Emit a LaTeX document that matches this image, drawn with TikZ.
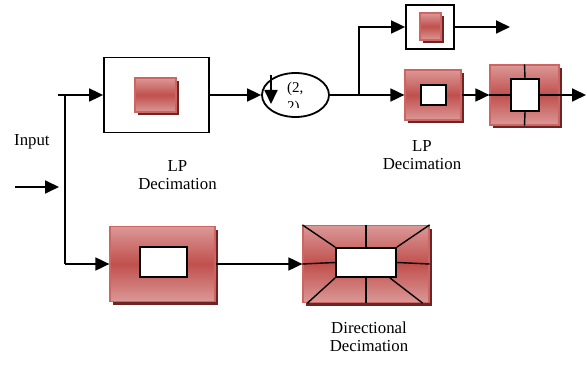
\documentclass[tikz,border=0pt]{standalone}
\usepackage{fontspec}
\setmainfont{Liberation Serif}
\usetikzlibrary{arrows.meta,shapes.geometric,shadows}

\definecolor{brickhi}{HTML}{DB9897}
\definecolor{brickmid}{HTML}{C0504D}
\definecolor{brickedge}{HTML}{CD6563}
\definecolor{brickshade}{HTML}{6E2424}

\tikzset{
  plainbox/.style={draw, line width=1.8pt, fill=white, inner sep=0pt},
  brick/.style={draw=brickedge, line width=1.2pt, inner sep=0pt,
    top color=brickhi, bottom color=brickhi, middle color=brickmid,
    drop shadow={shadow xshift=3pt, shadow yshift=-3.5pt, fill=brickshade, opacity=1}},
  hole/.style={draw, line width=1.8pt, fill=white, inner sep=0pt},
  link/.style={line width=1.8pt, -{Triangle[length=14pt,width=13pt]}},
  wire/.style={line width=1.8pt},
  cut/.style={line width=1.4pt},
  caption/.style={align=center, inner sep=0pt, anchor=base,
    font=\fontsize{16.8}{18.5}\selectfont}
}

\begin{document}
\begin{tikzpicture}[x=1pt, y=-1pt]
  \useasboundingbox (0,0) rectangle (587,366);

  % input and the trunk that feeds both branches
  \node[anchor=base west, inner sep=0pt, font=\fontsize{16.8}{18.5}\selectfont] (inlabel) at (14,146) {Input};
  \coordinate (src) at (15,187);
  \coordinate (tap) at (59,187);
  \coordinate (topL) at (58,95);
  \coordinate (trunkTop) at (65,95);
  \coordinate (trunkBot) at (65,264);

  % first lowpass stage
  \node[plainbox, minimum width=105pt, minimum height=75pt] (lpA) at (156.5,95) {};
  \node[brick, minimum width=41pt, minimum height=34pt] (lpAcore) at (155.5,95) {};
  \node[caption] (lpAtxt) at (177.5,190) {LP\\Decimation};

  % downsampling by (2,2)
  \node[ellipse, draw, line width=1.8pt, minimum width=67pt, minimum height=44pt, inner sep=0pt] (down) at (295.5,95) {};
  \begin{scope}
    \clip (278,76) rectangle (322,108);
    \node[anchor=base west, align=left, inner sep=0pt, font=\fontsize{15}{19}\selectfont] (downtxt) at (287,112) {(2,\\2)};
  \end{scope}
  \coordinate (dnTop) at (271,75);
  \coordinate (dnTip) at (271,104);
  \coordinate (fork) at (359,95);

  % second level
  \node[plainbox, minimum width=48pt, minimum height=44pt] (lpB) at (430,27) {};
  \node[brick, minimum width=21pt, minimum height=27pt] (lpBcore) at (430.5,26.5) {};
  \coordinate (outB) at (510,27);

  \node[brick, minimum width=56pt, minimum height=50pt] (boxC) at (433,95) {};
  \node[hole, minimum width=25pt, minimum height=20pt] (holeC) at (433.5,95) {};
  \node[caption] (lpBtxt) at (422,170) {LP\\Decimation};

  \node[brick, minimum width=69pt, minimum height=60pt] (boxD) at (524.5,95) {};
  \node[hole, minimum width=28pt, minimum height=32pt] (holeD) at (525,95) {};
  \coordinate (outD) at (586,95);

  % directional branch
  \node[brick, minimum width=105pt, minimum height=75pt] (boxE) at (162.5,264) {};
  \node[hole, minimum width=47pt, minimum height=30pt] (holeE) at (163.5,262) {};

  \node[brick, minimum width=126pt, minimum height=77pt] (boxF) at (366,264) {};
  \node[hole, minimum width=60pt, minimum height=29pt] (holeF) at (366,262.5) {};
  \node[caption] (dirtxt) at (369,352) {Directional\\Decimation};

  % connectors
  \draw[link] (src) -- (tap);
  \draw[wire] (trunkTop) -- (trunkBot);
  \draw[link] (topL) -- (topL -| lpA.west);
  \draw[link] (lpA.east) -- (down.west);
  \draw[link] (dnTop) -- (dnTip);
  \draw[wire] (down.east) -- (fork);
  \draw[link] (fork) |- (lpB.west);
  \draw[link] (fork) -- (boxC.west);
  \draw[link] (lpB.east) -- (outB);
  \draw[link] (boxC.east) -- (boxD.west);
  \draw[link] (boxD.east) -- (outD);
  \draw[link] (trunkBot) -- (trunkBot -| boxE.west);
  \draw[link] (boxE.east) -- (boxF.west);

  % partitions inside the filter blocks
  \foreach \a in {north,south,east,west}
    \draw[cut] (boxD.\a) -- (holeD.\a);
  \foreach \a in {north west,north,north east,east,west,south}
    \draw[cut] (boxF.\a) -- (holeF.\a);
  \draw[cut] ([xshift=5pt]boxF.south west) -- (holeF.south west);
  \draw[cut] ([xshift=-7pt]boxF.south east) -- ([xshift=-7pt]holeF.south east);
\end{tikzpicture}
\end{document}
